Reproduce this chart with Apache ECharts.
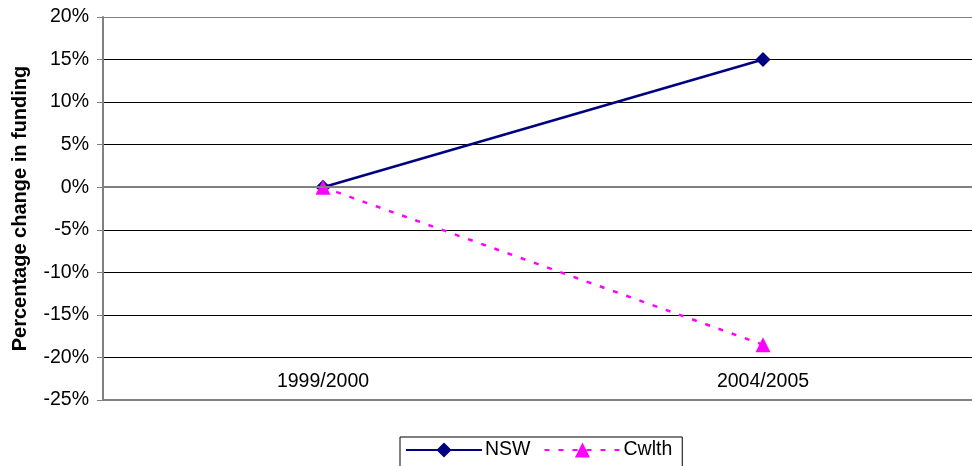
<!DOCTYPE html>
<html>
<head>
<meta charset="utf-8">
<script src="https://cdn.jsdelivr.net/npm/echarts@6/dist/echarts.min.js"></script>
<style>
  html, body { margin: 0; padding: 0; background: #fff; overflow: hidden; }
  /* plot area runs past the right edge of the window in the original */
  #main { width: 983px; height: 466px; }
</style>
</head>
<body>
<div id="main"></div>
<script>
// data
var years = ['1999/2000', '2004/2005'];
var nswValues = [0, 15];
var cwlthValues = [0, -18.5];

var myChart = echarts.init(document.getElementById('main'));

// gridline colours from -25% to 20%: the 0% and 20% lines are grey
var gridColours = ['#808080', '#000', '#000', '#000', '#000', '#808080', '#000', '#000', '#000', '#808080'];

var option = {
    backgroundColor: '#fff',
    animation: false,
    textStyle: { fontFamily: 'Liberation Sans, Arial, sans-serif' },
    grid: { left: 103, right: 0, top: 17, bottom: 66 },
    legend: {
        top: 437,
        left: 400,
        itemWidth: 76,
        itemHeight: 19,
        itemGap: 13,
        padding: [3, 10, 10, 5],
        borderColor: '#000',
        borderWidth: 1,
        textStyle: { fontSize: 19.5, color: '#000', padding: [0, 0, 0, -2] },
        data: ['NSW', 'Cwlth']
    },
    xAxis: {
        type: 'category',
        data: years,
        boundaryGap: true,
        axisLine: { onZero: false, lineStyle: { color: '#808080', width: 2 } },
        axisTick: { show: false },
        axisLabel: { inside: true, margin: 8, fontSize: 19.5, color: '#000' }
    },
    yAxis: {
        type: 'value',
        min: -25,
        max: 20,
        interval: 5,
        name: 'Percentage change in funding',
        nameLocation: 'middle',
        nameGap: 73,
        nameTextStyle: { fontSize: 20, fontWeight: 'bold', color: '#000' },
        axisLine: { show: true, lineStyle: { color: '#808080', width: 2 } },
        axisTick: { show: true, length: 6, lineStyle: { color: '#808080' } },
        axisLabel: {
            fontSize: 19.5,
            color: '#000',
            margin: 14,
            formatter: function (v) { return v + '%'; }
        },
        splitLine: { show: true, lineStyle: { color: gridColours, width: 1 } }
    },
    series: [
        {
            name: 'NSW',
            type: 'line',
            data: nswValues,
            symbol: 'diamond',
            symbolSize: 15,
            itemStyle: { color: '#000080' },
            lineStyle: { color: '#000080', width: 2.5 },
            markLine: {
                silent: true,
                symbol: 'none',
                label: { show: false },
                lineStyle: { color: '#808080', width: 2, type: 'solid' },
                data: [{ yAxis: 0 }]
            },
            z: 3
        },
        {
            name: 'Cwlth',
            type: 'line',
            data: cwlthValues,
            symbol: 'triangle',
            symbolSize: 15,
            itemStyle: { color: '#ff00ff' },
            lineStyle: { color: '#ff00ff', width: 2.5, type: [5, 9] },
            z: 4
        }
    ]
};
myChart.setOption(option);
</script>
</body>
</html>
